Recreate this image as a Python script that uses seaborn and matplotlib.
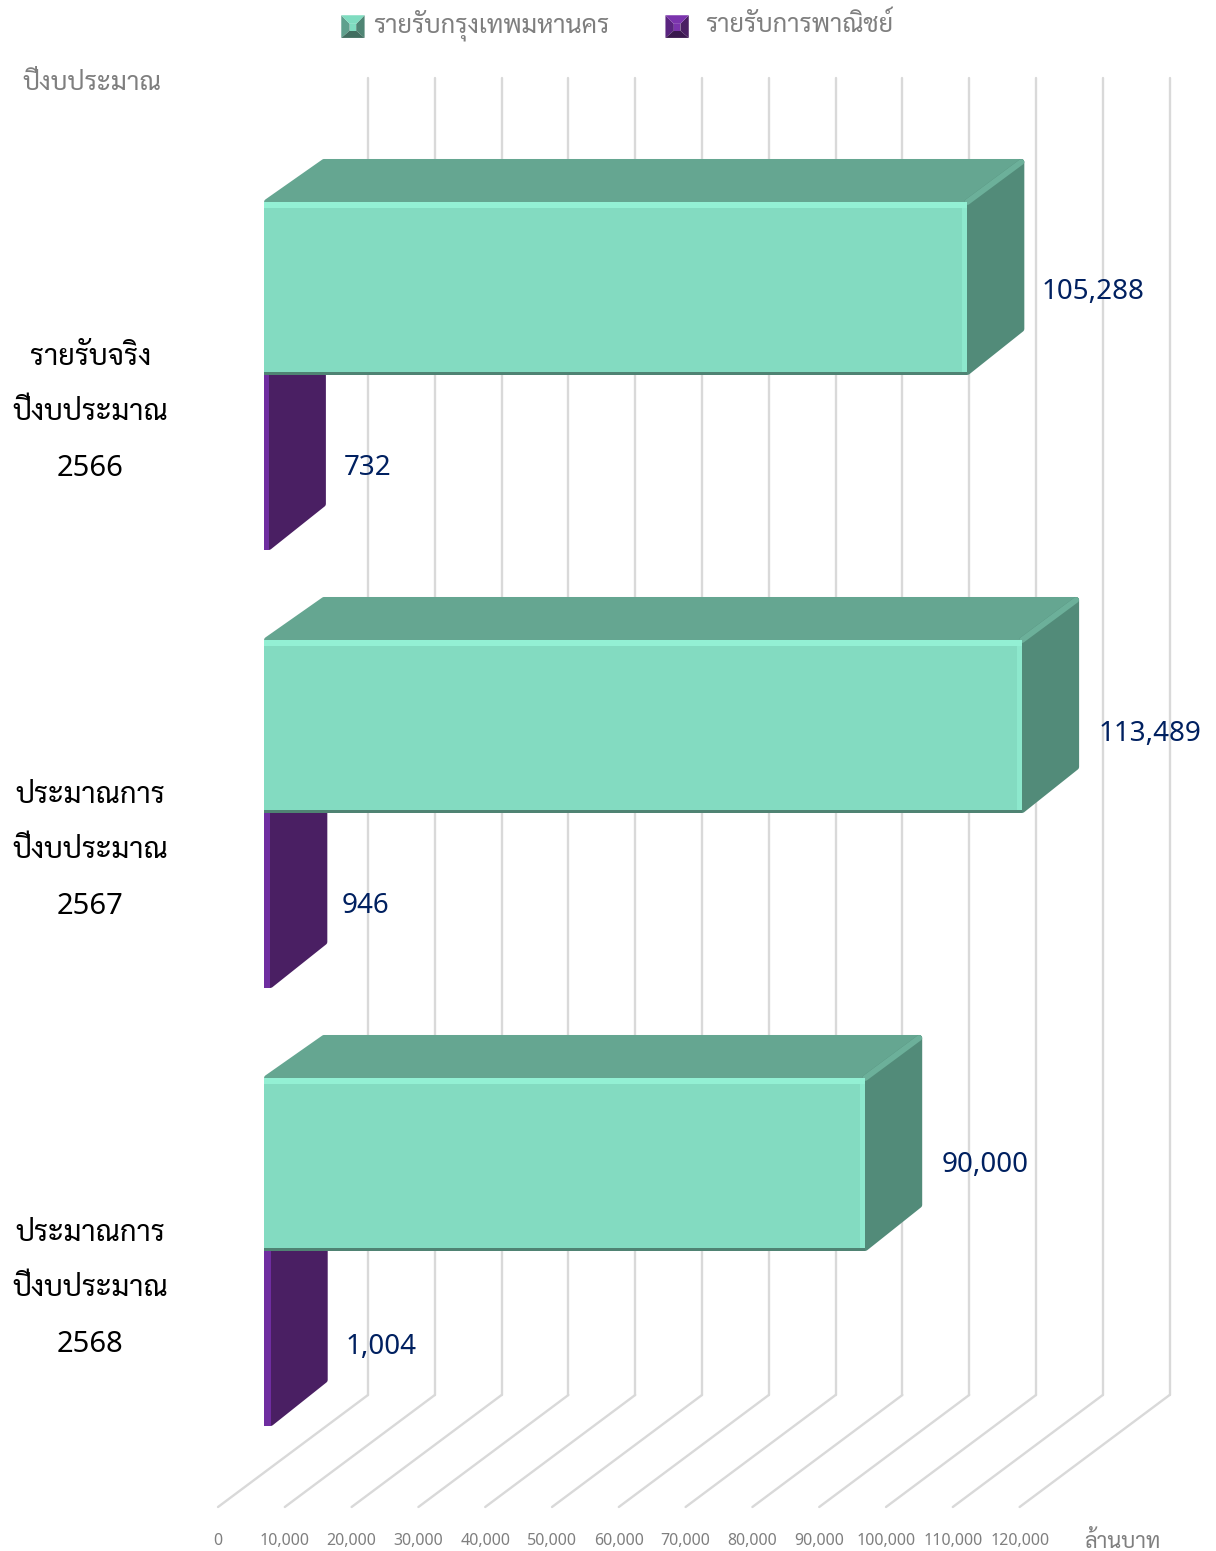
import matplotlib
matplotlib.use("Agg")
import matplotlib.pyplot as plt
import pandas as pd
import seaborn as sns
from matplotlib.legend_handler import HandlerBase
from matplotlib.patches import Patch, Polygon, Rectangle
from matplotlib.transforms import ScaledTranslation

YEARS = ["รายรับจริง\nปีงบประมาณ\n2566", "ประมาณการ\nปีงบประมาณ\n2567", "ประมาณการ\nปีงบประมาณ\n2568"]
SERIES = ["รายรับกรุงเทพมหานคร", "รายรับการพาณิชย์"]
BKK_INCOME = [105288, 113489, 90000]
COMMERCE_INCOME = [732, 946, 1004]
TICKS = list(range(0, 130000, 10000))
AXIS_TITLE = "ปีงบประมาณ"
UNIT = "ล้านบาท"

W, H = 1216, 1551
PX_PER_UNIT = 0.00668
GROUP_PX = 438.0
DEPTH = (57, 43)
ROUND = 3
GREEN = {"front": "#83dbc1", "top": "#65a691", "side": "#528b79", "light": "#93f0d4", "dark": "#4f8373",
         "bevel": "#6cb09a", "swatch": ["#7fdcc0", "#5fa08d", "#4f8574", "#416e60"]}
PURPLE = {"front": "#6f2da0", "top": "#5a2480", "side": "#4a1f63", "light": "#7a35aa", "dark": "#3a184e",
          "bevel": "#5a2480", "swatch": ["#7b34ad", "#5a2480", "#4a1f63", "#3a184e"]}
# small label nudges in pixels, measured against the reference
LABEL_DX = [[-2, 0, 0], [-1, -5, -1]]
LABEL_DY = [[4, 8, 1], [5, 5, 8]]


class PyramidHandler(HandlerBase):
    # bevelled legend key, the look Excel gives a 3D bar series
    def create_artists(self, legend, orig, x, y, w, h, fontsize, trans):
        top, left, right, bottom = orig.colors["swatch"]
        x = x + orig.key_shift
        y = y - 6.0
        cx0, cx1 = x + w * 0.36, x + w * 0.64
        out = [
            Polygon([(x, y), (cx0, y + h * 0.32), (cx0, y + h * 0.62), (x, y + h)], fc=left),
            Polygon([(x + w, y), (cx1, y + h * 0.32), (cx1, y + h * 0.62), (x + w, y + h)], fc=right),
            Polygon([(x, y), (x + w, y), (cx1, y + h * 0.32), (cx0, y + h * 0.32)], fc=bottom),
            Polygon([(x, y + h), (x + w, y + h), (cx1, y + h * 0.62), (cx0, y + h * 0.62)], fc=top),
            Rectangle((cx0, y + h * 0.32), cx1 - cx0, h * 0.3, fc=top),
        ]
        for art in out:
            art.set_transform(trans)
            art.set_linewidth(0)
        return out


def px_x(px):
    return (px - 264) / PX_PER_UNIT


def px_y(px):
    return (px - 375) / GROUP_PX


sns.set_theme(style="white", rc={"axes.facecolor": "white", "figure.facecolor": "white"})
plt.rcParams["font.family"] = ["Noto Sans", "Sarabun", "DejaVu Sans"]

frame = pd.DataFrame(
    {
        "year": YEARS * 2,
        "source": [SERIES[0]] * 3 + [SERIES[1]] * 3,
        "value": BKK_INCOME + COMMERCE_INCOME,
    }
)

fig = plt.figure(figsize=(W / 100, H / 100), dpi=100)
ax = fig.add_axes([264 / W, 1 - 1507 / H, (1133 - 264) / W, (1507 - 78) / H])
sns.barplot(
    data=frame, y="year", x="value", hue="source", order=YEARS, hue_order=SERIES,
    palette=[GREEN["front"], PURPLE["front"]], orient="h", width=0.79, gap=0, saturation=1,
    linewidth=0, legend=False, ax=ax, zorder=5,
)
ax.set_xlim(px_x(264), px_x(1133))
ax.set_ylim(px_y(1507), px_y(78))
for spine in ax.spines.values():
    spine.set_visible(False)
ax.set_xlabel("")
ax.set_ylabel("")

dx, dy = DEPTH[0] / PX_PER_UNIT, DEPTH[1] / GROUP_PX
rx, ry = ROUND / PX_PER_UNIT, ROUND / GROUP_PX
stroke = 2 * ROUND * 0.72
grid = "#d9d9d9"
for tick in TICKS:
    back = tick + 104 / PX_PER_UNIT
    ax.plot([back, back], [px_y(78), px_y(1395)], color=grid, lw=1.7, zorder=1, clip_on=False)
    ax.plot([tick - 46 / PX_PER_UNIT, back], [px_y(1507), px_y(1395)], color=grid, lw=1.7, zorder=1, clip_on=False)

for colors, container in zip([GREEN, PURPLE], ax.containers):
    base = 6 if colors is GREEN else 3
    for rect in container:
        if colors is PURPLE:
            rect.set_height(rect.get_height() + 2 / GROUP_PX)
        x0, y0 = rect.get_x(), rect.get_y()
        w, h = rect.get_width(), rect.get_height()
        top, bottom = min(y0, y0 + h), max(y0, y0 + h)
        x1 = x0 + w
        rect.set_zorder(base)
        ax.add_patch(Polygon([(x0 + rx, top), (x1, top), (x1 + dx - rx, top - dy + ry), (x0 + dx + rx, top - dy + ry)],
                             fc=colors["top"], ec=colors["top"], lw=stroke, joinstyle="round",
                             zorder=base - 0.5, clip_on=False))
        ax.add_patch(Polygon([(x1, top), (x1 + dx - rx, top - dy + ry), (x1 + dx - rx, bottom - dy - ry), (x1, bottom - ry)],
                             fc=colors["side"], ec=colors["side"], lw=stroke, joinstyle="round",
                             zorder=base - 0.4, clip_on=False))
        if colors is GREEN:
            ax.plot([x1, x1 + dx - rx], [top, top - dy + ry], color=colors["bevel"], lw=4.2, zorder=base - 0.3,
                    solid_capstyle="round")
            band = 6 / GROUP_PX
            edge = 5 / PX_PER_UNIT
            ax.add_patch(Rectangle((x1 - edge, top), edge, bottom - top, fc="#8de8cd", lw=0, zorder=base + 0.1))
            ax.add_patch(Rectangle((x0, top), w, band, fc=colors["light"], lw=0, zorder=base + 0.2))
            ax.add_patch(Rectangle((x0, bottom - 3 / GROUP_PX), w, 3 / GROUP_PX, fc=colors["dark"], lw=0, zorder=base + 0.3))

ax.set_xticks(TICKS)
ax.set_xticklabels([f"{t:,}" for t in TICKS], color="#7f7f7f", fontsize=11.5)
ax.tick_params(axis="x", length=0, pad=18.5, bottom=True)
shift = ScaledTranslation(-46 / 100, 0, fig.dpi_scale_trans)
for label in ax.get_xticklabels():
    label.set_transform(label.get_transform() + shift)

ax.set_yticks([i + 21 / GROUP_PX for i in range(len(YEARS))])
ax.set_yticklabels(YEARS, fontsize=21, color="black", ha="center", linespacing=2.22)
ax.tick_params(axis="y", length=0, pad=125)

for values, container, nudge_x, nudge_y in zip([BKK_INCOME, COMMERCE_INCOME], ax.containers, LABEL_DX, LABEL_DY):
    labels = ax.bar_label(container, labels=[f"{v:,}" for v in values], padding=(DEPTH[0] + 19) * 0.72,
                          color="#002060", fontsize=20, zorder=9)
    for ann, nx, ny in zip(labels, nudge_x, nudge_y):
        ann.xyann = (ann.xyann[0] + nx * 0.72, -ny * 0.72)

fig.text(92 / W, 1 - 83 / H, AXIS_TITLE, fontsize=18.7, color="#7f7f7f", ha="center", va="center")
fig.text(1122 / W, 1 - 1542 / H, UNIT, fontsize=15.7, color="#7f7f7f", ha="center", va="center")

green_handle = Patch(label=SERIES[0])
green_handle.colors, green_handle.key_shift = GREEN, 5.5
purple_handle = Patch(label=SERIES[1])
purple_handle.colors, purple_handle.key_shift = PURPLE, 0.0
fig.legend(handles=[green_handle, purple_handle], handler_map={Patch: PyramidHandler()}, loc="center",
           bbox_to_anchor=(613.5 / W, 1 - 25 / H), ncol=2, frameon=False, fontsize=18.25, labelcolor="#7f7f7f",
           handlelength=0.92, handleheight=1.0, handletextpad=0.65, columnspacing=2.2)

fig.savefig("out.png", dpi=100)
